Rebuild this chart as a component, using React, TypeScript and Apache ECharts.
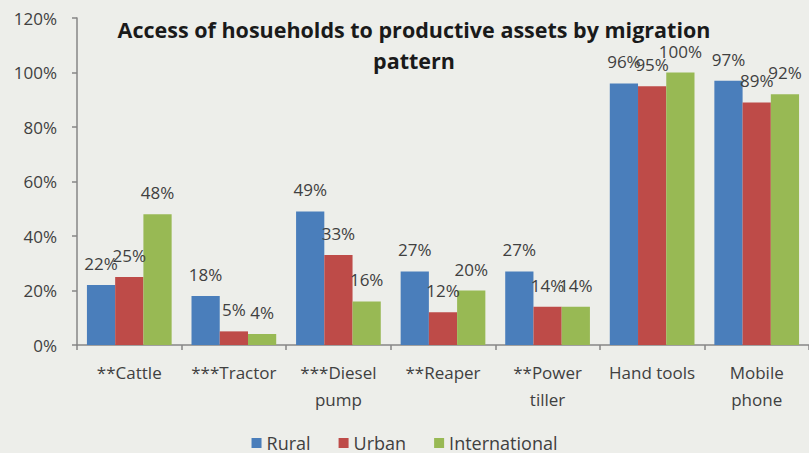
import React, { useEffect, useRef } from "react";
import * as echarts from "echarts";

const categories = ["**Cattle", "***Tractor", "***Diesel\npump", "**Reaper", "**Power\ntiller", "Hand tools", "Mobile\nphone"];
const rural = [22, 18, 49, 27, 27, 96, 97];
const urban = [25, 5, 33, 12, 14, 95, 89];
const international = [48, 4, 16, 20, 14, 100, 92];
const yTicks = [0, 20, 40, 60, 80, 100, 120];
const titleLines = ["Access of hosueholds to productive assets by migration", "pattern"];

const FONT = "'Open Sans', 'Noto Sans', sans-serif";
const TXT = "#404040";

export default function App() {
  const ref = useRef<HTMLDivElement>(null);
  useEffect(() => {
    document.body.style.margin = "0";
    const chart = echarts.init(ref.current!, null, { renderer: "svg" });
    const label = {
      show: true,
      position: "top",
      distance: 13,
      fontFamily: FONT,
      fontSize: 17,
      color: TXT,
      formatter: (p: any) => p.value + "%",
    };
    const mk = (name: string, data: number[], color: string) => ({
      name,
      type: "bar",
      data,
      barGap: "0%",
      barCategoryGap: "19%",
      itemStyle: { color },
      label,
    });
    chart.setOption({
      animation: false,
      backgroundColor: "#edeeea",
      textStyle: { fontFamily: FONT },
      graphic: [
        {
          type: "text",
          x: 414,
          y: 29,
          style: {
            text: titleLines[0],
            textAlign: "center",
            textVerticalAlign: "middle",
            font: `bold 21.5px ${FONT}`,
            fill: "#1a1a1a",
          },
        },
        {
          type: "text",
          x: 414,
          y: 60,
          style: {
            text: titleLines[1],
            textAlign: "center",
            textVerticalAlign: "middle",
            font: `bold 21.5px ${FONT}`,
            fill: "#1a1a1a",
          },
        },
      ],
      grid: { left: 77, right: -1, top: 18, bottom: 108, containLabel: false },
      legend: {
        top: 434,
        left: "center",
        padding: 0,
        itemWidth: 10,
        itemHeight: 10,
        itemGap: 28,
        icon: "rect",
        textStyle: { fontFamily: FONT, fontSize: 18, lineHeight: 18, color: TXT },
        data: ["Rural", "Urban", "International"],
      },
      xAxis: {
        type: "category",
        data: categories,
        axisLine: { lineStyle: { color: "#868686", width: 1.5 } },
        axisTick: { show: true, length: 5, alignWithLabel: false, lineStyle: { color: "#868686", width: 1.5 } },
        axisLabel: {
          interval: 0,
          margin: 14,
          fontFamily: FONT,
          fontSize: 17,
          lineHeight: 27,
          color: TXT,
        },
      },
      yAxis: {
        type: "value",
        min: yTicks[0],
        max: yTicks[yTicks.length - 1],
        interval: 20,
        splitLine: { show: false },
        axisLine: { show: true, lineStyle: { color: "#868686", width: 1.5 } },
        axisTick: { show: true, length: 5, lineStyle: { color: "#868686", width: 1.5 } },
        axisLabel: {
          margin: 20,
          fontFamily: FONT,
          fontSize: 17,
          color: TXT,
          formatter: (v: number) => v + "%",
        },
      },
      series: [
        mk("Rural", rural, "#4a7ebb"),
        mk("Urban", urban, "#be4b48"),
        mk("International", international, "#98b954"),
      ],
    });
    return () => chart.dispose();
  }, []);
  return <div ref={ref} style={{ width: 809, height: 453 }} />;
}
